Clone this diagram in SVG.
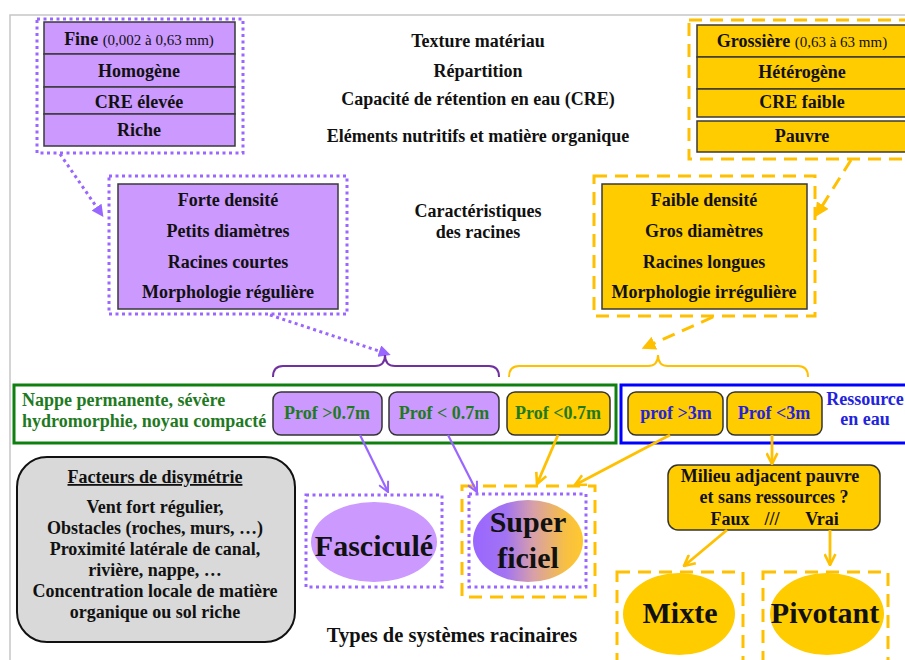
<svg xmlns="http://www.w3.org/2000/svg" width="905" height="660" viewBox="0 0 905 660">
  <defs>
    <style>
      text { font-family: "Liberation Serif", "Times New Roman", serif; font-weight: bold; font-size: 18px; fill: #111; }
      .c { text-anchor: middle; }
      .small { font-weight: normal; font-size: 15px; }
      .big { font-size: 30px; }
      .caption { font-size: 20.5px; }
      .green { fill: #1f7a1f; }
      .blue { fill: #2323dd; }
      .cell-p { fill: #cc99ff; stroke: #3a3a3a; stroke-width: 1.5; }
      .cell-y { fill: #ffcc00; stroke: #3a3a3a; stroke-width: 1.5; }
      .dot-p { fill: none; stroke: #9966ff; stroke-width: 3; stroke-dasharray: 3 3.5; }
      .dash-y { fill: none; stroke: #ffc000; stroke-width: 3; stroke-dasharray: 13 8; }
      .pill { stroke: #333; stroke-width: 1.5; }
      .arrow-p { fill: none; stroke: #9966ff; stroke-width: 2.2; marker-end: url(#openP); }
      .arrow-y { fill: none; stroke: #ffc000; stroke-width: 2.8; marker-end: url(#openY); }
    </style>
    <marker id="openP" viewBox="0 0 12 12" refX="11" refY="6" markerWidth="12" markerHeight="12" markerUnits="userSpaceOnUse" orient="auto">
      <path d="M1,1 L11,6 L1,11" fill="none" stroke="#9966ff" stroke-width="2"/>
    </marker>
    <marker id="openY" viewBox="0 0 12 12" refX="11" refY="6" markerWidth="13" markerHeight="13" markerUnits="userSpaceOnUse" orient="auto">
      <path d="M1,1 L11,6 L1,11" fill="none" stroke="#ffc000" stroke-width="2.4"/>
    </marker>
    <marker id="triP" viewBox="0 0 12 12" refX="6" refY="6" markerWidth="12" markerHeight="12" markerUnits="userSpaceOnUse" orient="auto">
      <path d="M0,0 L12,6 L0,12 z" fill="#9966ff"/>
    </marker>
    <marker id="triY" viewBox="0 0 12 12" refX="6" refY="6" markerWidth="14" markerHeight="14" markerUnits="userSpaceOnUse" orient="auto">
      <path d="M0,0 L12,6 L0,12 z" fill="#ffc000"/>
    </marker>
    <linearGradient id="superGrad" x1="0" y1="0" x2="1" y2="0">
      <stop offset="0" stop-color="#9966ff"/>
      <stop offset="0.3" stop-color="#a274f2"/>
      <stop offset="0.55" stop-color="#d8a0a8"/>
      <stop offset="0.85" stop-color="#f8c040"/>
      <stop offset="1" stop-color="#ffc830"/>
    </linearGradient>
  </defs>

  <rect width="905" height="660" fill="#ffffff"/>
  <!-- page frame -->
  <path d="M10,660 L10,15 L905,15" fill="none" stroke="#c6c6c6" stroke-width="1.5"/>

  <!-- fine texture column -->
  <g id="texture-fine">
    <rect class="dot-p" x="37" y="19" width="206" height="134"/>
    <rect class="cell-p" x="44" y="22" width="191" height="32"/>
    <rect class="cell-p" x="44" y="54" width="191" height="33"/>
    <rect class="cell-p" x="44" y="87" width="191" height="27"/>
    <rect class="cell-p" x="44" y="114" width="191" height="32"/>
    <text class="c" x="139" y="45">Fine <tspan class="small">(0,002 à 0,63 mm)</tspan></text>
    <text class="c" x="139" y="77">Homogène</text>
    <text class="c" x="139" y="108">CRE élevée</text>
    <text class="c" x="139" y="136">Riche</text>
  </g>

  <!-- coarse texture column -->
  <g id="texture-grossiere">
    <rect class="dash-y" x="689" y="20" width="226" height="139"/>
    <rect class="cell-y" x="697" y="25" width="210" height="32"/>
    <rect class="cell-y" x="697" y="57" width="210" height="32"/>
    <rect class="cell-y" x="697" y="89" width="210" height="28"/>
    <rect class="cell-y" x="697" y="121" width="210" height="31"/>
    <text class="c" x="802" y="47">Grossière  <tspan class="small">(0,63 à 63 mm)</tspan></text>
    <text class="c" x="802" y="78">Hétérogène</text>
    <text class="c" x="802" y="108">CRE faible</text>
    <text class="c" x="802" y="142">Pauvre</text>
  </g>

  <!-- central row labels -->
  <g id="labels-sol">
    <text class="c" x="478" y="47">Texture matériau</text>
    <text class="c" x="478" y="77">Répartition</text>
    <text class="c" x="478" y="105">Capacité de rétention en eau (CRE)</text>
    <text class="c" x="478" y="142">Eléments nutritifs et matière organique</text>
  </g>
  <g id="labels-racines">
    <text class="c" x="478" y="217">Caractéristiques</text>
    <text class="c" x="478" y="238">des racines</text>
  </g>

  <!-- root characteristics -->
  <g id="racines-fines">
    <rect class="dot-p" x="109" y="176" width="238" height="138"/>
    <rect class="cell-p" x="118" y="184" width="220" height="125"/>
    <text class="c" x="228" y="206">Forte densité</text>
    <text class="c" x="228" y="237">Petits diamètres</text>
    <text class="c" x="228" y="268">Racines courtes</text>
    <text class="c" x="228" y="298">Morphologie régulière</text>
  </g>
  <g id="racines-grosses">
    <rect class="dash-y" x="594" y="176" width="221" height="140"/>
    <rect class="cell-y" x="602" y="184" width="205" height="125"/>
    <text class="c" x="704" y="206">Faible densité</text>
    <text class="c" x="704" y="237">Gros diamètres</text>
    <text class="c" x="704" y="268">Racines longues</text>
    <text class="c" x="704" y="298">Morphologie irrégulière</text>
  </g>

  <!-- water table band -->
  <g id="nappe">
    <rect x="14" y="385" width="602" height="58" fill="none" stroke="#0f800f" stroke-width="3"/>
    <text class="green" x="22" y="406">Nappe permanente, sévère</text>
    <text class="green" x="22" y="427">hydromorphie, noyau compacté</text>
  </g>
  <g id="prof-07-sup">
    <rect class="pill" x="273" y="392" width="109" height="43" rx="8" fill="#cc99ff"/>
    <text class="c green" x="327" y="419">Prof &gt;0.7m</text>
  </g>
  <g id="prof-07-inf-p">
    <rect class="pill" x="389" y="392" width="110" height="43" rx="8" fill="#cc99ff"/>
    <text class="c green" x="444" y="419">Prof &lt; 0.7m</text>
  </g>
  <g id="prof-07-inf-y">
    <rect class="pill" x="507" y="392" width="103" height="43" rx="8" fill="#ffcc00"/>
    <text class="c green" x="558" y="419">Prof &lt;0.7m</text>
  </g>

  <!-- water resource band -->
  <g id="ressource">
    <rect x="621" y="385" width="300" height="58" fill="none" stroke="#0000ff" stroke-width="3"/>
    <text class="c blue" x="865" y="405">Ressource</text>
    <text class="c blue" x="865" y="425">en eau</text>
  </g>
  <g id="prof-3-sup">
    <rect class="pill" x="628" y="392" width="95" height="43" rx="8" fill="#ffcc00"/>
    <text class="c blue" x="676" y="419">prof &gt;3m</text>
  </g>
  <g id="prof-3-inf">
    <rect class="pill" x="727" y="392" width="95" height="43" rx="8" fill="#ffcc00"/>
    <text class="c blue" x="774" y="419">Prof &lt;3m</text>
  </g>

  <!-- asymmetry factors -->
  <g id="facteurs">
    <rect x="17" y="457" width="278" height="185" rx="30" fill="#d9d9d9" stroke="#111" stroke-width="2"/>
    <text class="c" x="155" y="483" text-decoration="underline">Facteurs de disymétrie</text>
    <text class="c" x="155" y="513">Vent fort régulier,</text>
    <text class="c" x="155" y="534">Obstacles (roches, murs, …)</text>
    <text class="c" x="155" y="555">Proximité latérale de canal,</text>
    <text class="c" x="155" y="576">rivière, nappe, …</text>
    <text class="c" x="155" y="597">Concentration locale de matière</text>
    <text class="c" x="155" y="618">organique ou  sol riche</text>
  </g>

  <!-- decision -->
  <g id="milieu">
    <rect class="pill" x="668" y="465" width="212" height="65" rx="10" fill="#ffcc00"/>
    <text class="c" x="770" y="482">Milieu adjacent pauvre</text>
    <text class="c" x="774" y="503">et sans ressources  ?</text>
    <text class="c" y="525"><tspan x="730">Faux</tspan><tspan x="772">///</tspan><tspan x="822">Vrai</tspan></text>
  </g>

  <!-- root system types -->
  <g id="fascicule">
    <rect class="dot-p" x="306" y="495" width="136" height="92"/>
    <ellipse cx="374" cy="542" rx="63" ry="40" fill="#cc99ff"/>
    <text class="c big" x="374" y="556">Fasciculé</text>
  </g>
  <g id="superficiel">
    <rect class="dash-y" x="462" y="486" width="133" height="111"/>
    <rect class="dot-p" x="469" y="494" width="117" height="93"/>
    <ellipse cx="528" cy="541" rx="55" ry="41" fill="url(#superGrad)"/>
    <text class="c big" x="528" y="532">Super</text>
    <text class="c big" x="528" y="568">ficiel</text>
  </g>
  <g id="mixte">
    <rect class="dash-y" x="617" y="572" width="126" height="110"/>
    <ellipse cx="679" cy="614" rx="56" ry="41" fill="#ffcc00"/>
    <text class="c big" x="680" y="623">Mixte</text>
  </g>
  <g id="pivotant">
    <rect class="dash-y" x="763" y="572" width="125" height="110"/>
    <ellipse cx="827" cy="614" rx="57" ry="41" fill="#ffcc00"/>
    <text class="c big" x="825" y="623">Pivotant</text>
  </g>
  <g id="label-types">
    <text class="c caption" x="452" y="642">Types de systèmes racinaires</text>
  </g>

  <!-- connectors -->
  <g id="connectors">
    <path d="M60,154 L100,212" fill="none" stroke="#9966ff" stroke-width="3" stroke-dasharray="3 3.5" marker-end="url(#triP)"/>
    <path d="M270,315 L385,353" fill="none" stroke="#9966ff" stroke-width="3" stroke-dasharray="3 3.5" marker-end="url(#triP)"/>
    <path d="M851,160 L819,211" fill="none" stroke="#ffc000" stroke-width="3" stroke-dasharray="13 8" marker-end="url(#triY)"/>
    <path d="M713,317 L648,346" fill="none" stroke="#ffc000" stroke-width="3" stroke-dasharray="13 8" marker-end="url(#triY)"/>

    <path d="M273,377 Q273,366 283,366 L375,366 Q385,366 385,355 Q385,366 395,366 L489,366 Q499,366 499,377" fill="none" stroke="#7030a0" stroke-width="2"/>
    <path d="M509,377 Q509,366 519,366 L648,366 Q658,366 658,355 Q658,366 668,366 L798,366 Q808,366 808,377" fill="none" stroke="#ffc000" stroke-width="2"/>

    <path class="arrow-p" d="M360,435 L388,492"/>
    <path class="arrow-p" d="M448,435 L477,492"/>
    <path class="arrow-y" d="M558,435 L537,484"/>
    <path class="arrow-y" d="M670,435 L575,485"/>
    <path class="arrow-y" d="M772,435 L772,464"/>
    <path class="arrow-y" d="M727,530 L684,566"/>
    <path class="arrow-y" d="M830,530 L830,565"/>
  </g>
</svg>
